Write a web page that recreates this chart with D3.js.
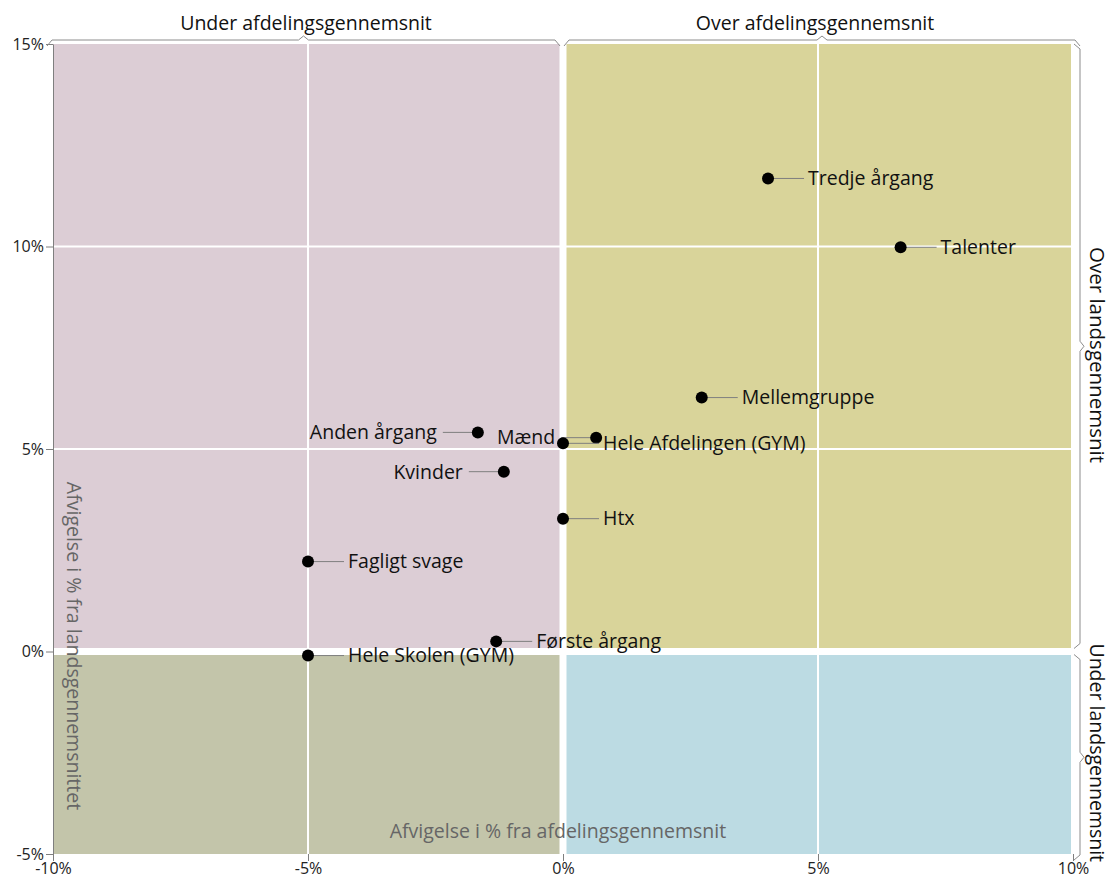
<!DOCTYPE html>
<html>
<head>
<meta charset="utf-8">
<script src="https://cdn.jsdelivr.net/npm/d3@7"></script>
<style>
  body { margin: 0; background: #fff; }
  svg { display: block; font-family: "Open Sans", Lato, sans-serif; }
</style>
</head>
<body>
<div id="chart"></div>
<script>
// groups and their deviation (%) from department avg (x) and national avg (y)
const groups = ["Tredje årgang", "Talenter", "Mellemgruppe", "Anden årgang", "Mænd",
  "Hele Afdelingen (GYM)", "Kvinder", "Htx", "Fagligt svage", "Første årgang", "Hele Skolen (GYM)"];
const xValues = [4.02, 6.62, 2.72, -1.67, 0.65, 0.0, -1.16, 0.0, -5.0, -1.31, -5.0];
const yValues = [11.68, 9.98, 6.27, 5.41, 5.28, 5.14, 4.44, 3.28, 2.22, 0.25, -0.1];
const xTicks = [-10, -5, 0, 5, 10];
const yTicks = [-5, 0, 5, 10, 15];

// labels that sit on the left side of their point
const leftLabels = new Set(["Anden årgang", "Mænd", "Kvinder"]);

const width = 1112, height = 879;
const margin = { top: 44, right: 39, bottom: 25, left: 53 };

const svg = d3.select("#chart").append("svg")
  .attr("width", width)
  .attr("height", height);

const x = d3.scaleLinear().domain([-10, 10]).range([margin.left, width - margin.right]);
const y = d3.scaleLinear().domain([-5, 15]).range([height - margin.bottom, margin.top]);

const x0 = x(0), y0 = y(0);
const gap = 3.5;
const quads = [
  { x1: x.range()[0], x2: x0 - gap, y1: y.range()[1], y2: y0 - gap, fill: "#dccdd5" },
  { x1: x0 + gap, x2: x.range()[1] - 2, y1: y.range()[1], y2: y0 - gap, fill: "#d9d49a" },
  { x1: x.range()[0], x2: x0 - gap, y1: y0 + gap, y2: y.range()[0], fill: "#c3c5aa" },
  { x1: x0 + gap, x2: x.range()[1] - 2, y1: y0 + gap, y2: y.range()[0], fill: "#bcdbe3" }
];

svg.append("g").selectAll("rect")
  .data(quads)
  .join("rect")
  .attr("x", d => d.x1)
  .attr("y", d => d.y1)
  .attr("width", d => d.x2 - d.x1)
  .attr("height", d => d.y2 - d.y1)
  .attr("fill", d => d.fill);

// white gridlines
const grid = svg.append("g").attr("stroke", "#fff").attr("stroke-width", 2);
grid.selectAll(".gx")
  .data(xTicks.filter(t => t !== -10 && t !== 10 && t !== 0))
  .join("line")
  .attr("x1", d => x(d)).attr("x2", d => x(d))
  .attr("y1", y.range()[1]).attr("y2", y.range()[0]);
grid.selectAll(".gy")
  .data(yTicks.filter(t => t !== -5 && t !== 15 && t !== 0))
  .join("line")
  .attr("y1", d => y(d)).attr("y2", d => y(d))
  .attr("x1", x.range()[0]).attr("x2", x.range()[1]);

// axes
const fmt = d => d + "%";
const yAxis = svg.append("g")
  .attr("transform", `translate(${margin.left},0)`)
  .call(d3.axisLeft(y).tickValues(yTicks).tickFormat(fmt).tickSize(7).tickSizeOuter(0));
yAxis.select(".domain").attr("stroke", "#7f7f7f");
yAxis.selectAll(".tick line").attr("stroke", "#7f7f7f");
yAxis.selectAll("text").attr("font-size", 16).attr("fill", "#222").attr("x", -9)
  .attr("font-family", "'Open Sans', sans-serif");

const xAxis = svg.append("g")
  .attr("transform", `translate(0,${y.range()[0]})`)
  .call(d3.axisBottom(x).tickValues(xTicks).tickFormat(fmt).tickSize(7).tickSizeOuter(0));
xAxis.select(".domain").remove();
xAxis.selectAll(".tick line").attr("stroke", "#7f7f7f");
xAxis.selectAll("text").attr("font-size", 16).attr("fill", "#222").attr("dy", "0.62em")
  .attr("font-family", "'Open Sans', sans-serif");

// axis titles
svg.append("text")
  .attr("transform", `translate(67,646) rotate(90)`)
  .attr("text-anchor", "middle")
  .attr("font-size", 19.5)
  .attr("fill", "#666")
  .text("Afvigelse i % fra landsgennemsnittet");

svg.append("text")
  .attr("x", x(-0.1))
  .attr("y", 838)
  .attr("text-anchor", "middle")
  .attr("font-size", 19.5)
  .attr("fill", "#666")
  .text("Afvigelse i % fra afdelingsgennemsnit");

// braces
const braceColor = "#8c8c8c";
function hBrace(xa, xb, yy) {
  const c = (xa + xb) / 2;
  return `M${xa},${yy + 6} L${xa + 5},${yy} L${c - 5},${yy} L${c},${yy - 4} L${c + 5},${yy} L${xb - 5},${yy} L${xb},${yy + 6}`;
}
function vBrace(ya, yb, xx) {
  const c = (ya + yb) / 2;
  return `M${xx - 6},${ya} L${xx},${ya + 5} L${xx},${c - 5} L${xx + 4},${c} L${xx},${c + 5} L${xx},${yb - 5} L${xx - 6},${yb}`;
}
const braces = svg.append("g").attr("fill", "none").attr("stroke", braceColor).attr("stroke-width", 1);
braces.append("path").attr("d", hBrace(x.range()[0] - 6, x0 - 3, 40));
braces.append("path").attr("d", hBrace(x0 + 1, x.range()[1] + 7, 40));
braces.append("path").attr("d", vBrace(y.range()[1], y0 - 3, 1080));
braces.append("path").attr("d", vBrace(y0 + 3, y.range()[0] + 6, 1080));

const braceText = svg.append("g").attr("font-size", 19.5).attr("fill", "#111").attr("text-anchor", "middle");
braceText.append("text").attr("x", (x.range()[0] + x0) / 2 - 2).attr("y", 30).text("Under afdelingsgennemsnit");
braceText.append("text").attr("x", (x0 + x.range()[1]) / 2 - 3).attr("y", 30).text("Over afdelingsgennemsnit");
braceText.append("text")
  .attr("font-size", 20.5)
  .attr("transform", `translate(1090,355) rotate(90)`)
  .text("Over landsgennemsnit");
braceText.append("text")
  .attr("transform", `translate(1090,${(y0 + y.range()[0]) / 2}) rotate(90)`)
  .text("Under landsgennemsnit");

// points and labels
const data = groups.map((g, i) => ({ name: g, x: xValues[i], y: yValues[i], left: leftLabels.has(g) }));

const pts = svg.append("g").selectAll("g")
  .data(data)
  .join("g")
  .attr("transform", d => `translate(${x(d.x)},${y(d.y)})`);

pts.append("line")
  .attr("x1", d => d.left ? -4 : 4)
  .attr("x2", d => d.left ? -35 : 36)
  .attr("stroke", "#7f7f7f")
  .attr("stroke-width", 1);

pts.append("circle")
  .attr("r", 6)
  .attr("fill", "#000");

pts.append("text")
  .attr("x", d => d.left ? -41 : 40)
  .attr("dy", "0.35em")
  .attr("text-anchor", d => d.left ? "end" : "start")
  .attr("font-size", 19.5)
  .attr("fill", "#111")
  .text(d => d.name);
</script>
</body>
</html>
